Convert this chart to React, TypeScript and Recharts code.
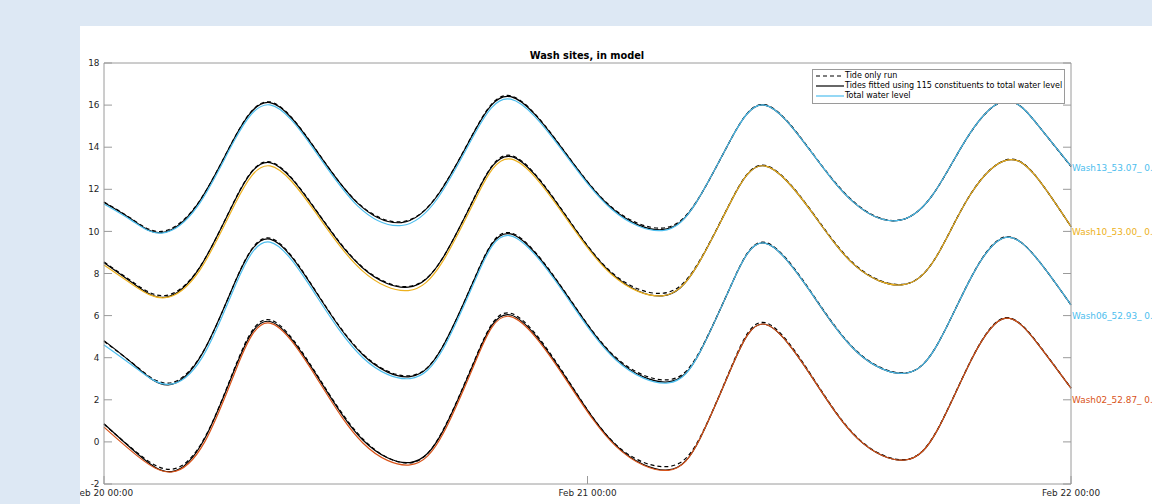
import { LineChart, Line, XAxis, YAxis, ReferenceDot } from 'recharts';

// hours since Feb 20 00:00
const hours13 = [0, 1.4, 2.86, 4.65, 6.45, 8.24, 10.42, 12.6, 14.77, 16.58, 18.38, 20.19, 22.69, 25.2, 27.7, 29.4, 31.1, 32.8, 35.0, 37.2, 39.35, 41.15, 42.95, 44.8, 46.4, 48];
const tide13 = [11.4, 10.58, 10.0, 11.32, 14.4, 16.15, 14.02, 11.36, 10.46, 11.76, 14.75, 16.44, 14.02, 11.15, 10.16, 11.4, 14.34, 16.02, 13.93, 11.42, 10.52, 11.76, 14.6, 16.2, 15.0, 13.08];
const fitted13 = [11.37, 10.55, 9.94, 11.3, 14.39, 16.12, 14.0, 11.33, 10.42, 11.74, 14.73, 16.4, 14.0, 11.11, 10.08, 11.38, 14.34, 16.0, 13.91, 11.39, 10.51, 11.76, 14.61, 16.2, 15.0, 13.1];
const total13 = [11.3, 10.5, 9.92, 11.2, 14.28, 16.01, 13.9, 11.2, 10.28, 11.6, 14.6, 16.28, 13.92, 11.05, 10.04, 11.38, 14.34, 16.0, 13.91, 11.39, 10.51, 11.76, 14.61, 16.2, 15.0, 13.1];

const hours10 = [0, 1.5, 3.03, 4.75, 6.5, 8.24, 10.5, 12.8, 15.1, 16.8, 18.5, 20.23, 22.7, 25.2, 27.7, 29.4, 31.1, 32.8, 35.1, 37.3, 39.6, 41.3, 43.0, 44.87, 46.4, 48];
const tide10 = [8.55, 7.55, 6.95, 8.3, 11.5, 13.3, 11.05, 8.33, 7.38, 8.72, 11.83, 13.6, 11.07, 8.05, 7.06, 8.35, 11.4, 13.14, 10.99, 8.4, 7.48, 8.78, 11.75, 13.42, 12.45, 10.22];
const fitted10 = [8.52, 7.5, 6.87, 8.28, 11.48, 13.27, 11.02, 8.3, 7.35, 8.71, 11.81, 13.55, 11.04, 8.0, 6.94, 8.3, 11.38, 13.11, 10.96, 8.36, 7.46, 8.77, 11.74, 13.4, 12.45, 10.23];
const total10 = [8.4, 7.42, 6.85, 8.15, 11.3, 13.11, 10.9, 8.15, 7.19, 8.55, 11.65, 13.43, 10.95, 7.95, 6.94, 8.3, 11.38, 13.11, 10.96, 8.36, 7.46, 8.77, 11.74, 13.4, 12.45, 10.23];

const hours06 = [0, 1.6, 3.19, 4.9, 6.55, 8.24, 10.5, 12.85, 15.19, 16.85, 18.5, 20.19, 22.8, 25.4, 28.0, 29.6, 31.2, 32.81, 35.1, 37.4, 39.76, 41.4, 43.1, 44.76, 46.4, 48];
const tide06 = [4.78, 3.6, 2.79, 4.25, 7.7, 9.68, 7.18, 4.18, 3.14, 4.6, 8.0, 9.93, 7.24, 4.02, 2.95, 4.35, 7.6, 9.48, 7.12, 4.28, 3.28, 4.69, 7.92, 9.74, 8.6, 6.5];
const fitted06 = [4.81, 3.58, 2.71, 4.23, 7.69, 9.63, 7.15, 4.14, 3.1, 4.59, 7.98, 9.88, 7.21, 3.97, 2.85, 4.3, 7.59, 9.44, 7.09, 4.25, 3.26, 4.68, 7.91, 9.72, 8.6, 6.51];
const total06 = [4.61, 3.5, 2.73, 4.05, 7.5, 9.49, 7.0, 4.0, 3.01, 4.45, 7.85, 9.79, 7.12, 3.9, 2.8, 4.3, 7.59, 9.44, 7.09, 4.25, 3.26, 4.68, 7.91, 9.72, 8.6, 6.51];

const hours02 = [0, 1.7, 3.36, 5.0, 6.6, 8.24, 10.55, 12.85, 15.19, 16.85, 18.5, 20.19, 22.8, 25.4, 28.0, 29.6, 31.2, 32.81, 35.1, 37.4, 39.76, 41.4, 43.1, 44.76, 46.4, 48];
const tide02 = [0.84, -0.55, -1.3, 0.2, 3.78, 5.8, 3.22, 0.14, -1.0, 0.6, 4.12, 6.11, 3.28, -0.12, -1.17, 0.24, 3.7, 5.67, 3.18, 0.2, -0.84, 0.64, 4.0, 5.9, 4.62, 2.55];
const fitted02 = [0.86, -0.6, -1.41, 0.16, 3.72, 5.72, 3.17, 0.09, -0.98, 0.56, 4.07, 6.03, 3.23, -0.15, -1.33, 0.19, 3.65, 5.59, 3.14, 0.17, -0.86, 0.62, 3.99, 5.88, 4.6, 2.55];
const total02 = [0.7, -0.7, -1.43, 0.0, 3.55, 5.64, 3.05, -0.05, -1.09, 0.42, 3.95, 5.95, 3.15, -0.2, -1.35, 0.19, 3.65, 5.59, 3.14, 0.17, -0.86, 0.62, 3.99, 5.88, 4.6, 2.55];

const siteNames = ['Wash13_53.07_ 0.', 'Wash10_53.00_ 0.', 'Wash06_52.93_ 0.', 'Wash02_52.87_ 0.'];
const siteColors = ['#4DBEEE', '#EDB120', '#4DBEEE', '#D95319'];
const labelLevels = [13, 10, 6, 2];

const xTicks = [0, 24, 48];
const xTickLabels = ['Feb 20 00:00', 'Feb 21 00:00', 'Feb 22 00:00'];
const yTicks = [-2, 0, 2, 4, 6, 8, 10, 12, 14, 16, 18];

const legendItems = [
  { name: 'Tide only run', color: '#000', dash: '4 3' },
  { name: 'Tides fitted using 115 constituents to total water level', color: '#000', dash: undefined },
  { name: 'Total water level', color: '#4DBEEE', dash: undefined },
];

const toPoints = (hours: number[], vals: number[]) => hours.map((t, i) => ({ t, v: vals[i] }));

const sites = [
  { hours: hours13, tide: tide13, fitted: fitted13, total: total13 },
  { hours: hours10, tide: tide10, fitted: fitted10, total: total10 },
  { hours: hours06, tide: tide06, fitted: fitted06, total: total06 },
  { hours: hours02, tide: tide02, fitted: fitted02, total: total02 },
].map((s, i) => ({
  name: siteNames[i],
  color: siteColors[i],
  tide: toPoints(s.hours, s.tide),
  fitted: toPoints(s.hours, s.fitted),
  total: toPoints(s.hours, s.total),
}));

const axisColor = '#9a9a9a';
const textColor = '#262626';
const font = 'DejaVu Sans';
const tickFont = { fontSize: 8.9, fill: textColor, fontFamily: font };

export default function App() {
  return (
    <div style={{ position: 'absolute', left: 0, top: 0, width: 1152, height: 504, background: '#dde8f4', overflow: 'hidden', fontFamily: font }}>
      <div style={{ position: 'absolute', left: 80, top: 26, width: 1072, height: 478, background: '#fff', overflow: 'hidden' }}>
        <div style={{ position: 'absolute', left: 0, top: 24, width: 1014, textAlign: 'center', fontSize: 9.8, fontWeight: 'bold', color: '#000', lineHeight: '12px' }}>
          Wash sites, in model
        </div>
        <LineChart width={1072} height={478} margin={{ top: 0, left: 0, right: 0, bottom: 0 }}>
          <XAxis
            dataKey="t"
            type="number"
            domain={[0, 48]}
            ticks={xTicks}
            tickFormatter={(v) => xTickLabels[xTicks.indexOf(v)]}
            height={20}
            tickSize={-8}
            tickMargin={14}
            stroke={axisColor}
            tick={tickFont}
            interval={0}
          />
          <XAxis
            xAxisId="top"
            orientation="top"
            type="number"
            domain={[0, 48]}
            ticks={xTicks}
            tickFormatter={() => ''}
            height={37}
            tickSize={-8}
            stroke={axisColor}
            allowDataOverflow
          />
          <YAxis
            type="number"
            domain={[-2, 18]}
            ticks={yTicks}
            width={24}
            tickSize={-8}
            tickMargin={12.5}
            stroke={axisColor}
            tick={tickFont}
            interval={0}
          />
          <YAxis
            yAxisId="right"
            orientation="right"
            type="number"
            domain={[-2, 18]}
            ticks={yTicks}
            width={81}
            tickSize={-8}
            tickFormatter={() => ''}
            stroke={axisColor}
            allowDataOverflow
          />
          {sites.map((s) => (
            <Line key={s.name + 'tide'} data={s.tide} dataKey="v" type="natural" stroke="#000" strokeWidth={1.2} strokeDasharray="4 3" dot={false} isAnimationActive={false} />
          ))}
          {sites.map((s) => (
            <Line key={s.name + 'fit'} data={s.fitted} dataKey="v" type="natural" stroke="#000" strokeWidth={1.2} dot={false} isAnimationActive={false} />
          ))}
          {sites.map((s) => (
            <Line key={s.name + 'tot'} data={s.total} dataKey="v" type="natural" stroke={s.color} strokeWidth={1.2} dot={false} isAnimationActive={false} />
          ))}
          {sites.map((s, i) => (
            <ReferenceDot
              key={s.name + 'lbl'}
              x={48}
              y={labelLevels[i]}
              r={0}
              stroke="none"
              fill="none"
              label={{ value: s.name, position: 'right', offset: 1, fill: s.color, fontSize: 8.9, fontFamily: font }}
            />
          ))}
        </LineChart>
        <div style={{ position: 'absolute', left: 732, top: 43, width: 251, height: 32, border: `1px solid ${axisColor}`, background: '#fff', fontSize: 8, color: '#000', paddingTop: 1 }}>
          {legendItems.map((it) => (
            <div key={it.name} style={{ display: 'flex', alignItems: 'center', height: 10, lineHeight: '10px' }}>
              <svg width={30} height={10} style={{ marginLeft: 2, flex: 'none' }}>
                <line x1={1} y1={5} x2={29} y2={5} stroke={it.color} strokeWidth={1.2} strokeDasharray={it.dash} />
              </svg>
              <span style={{ whiteSpace: 'nowrap' }}>{it.name}</span>
            </div>
          ))}
        </div>
      </div>
    </div>
  );
}
